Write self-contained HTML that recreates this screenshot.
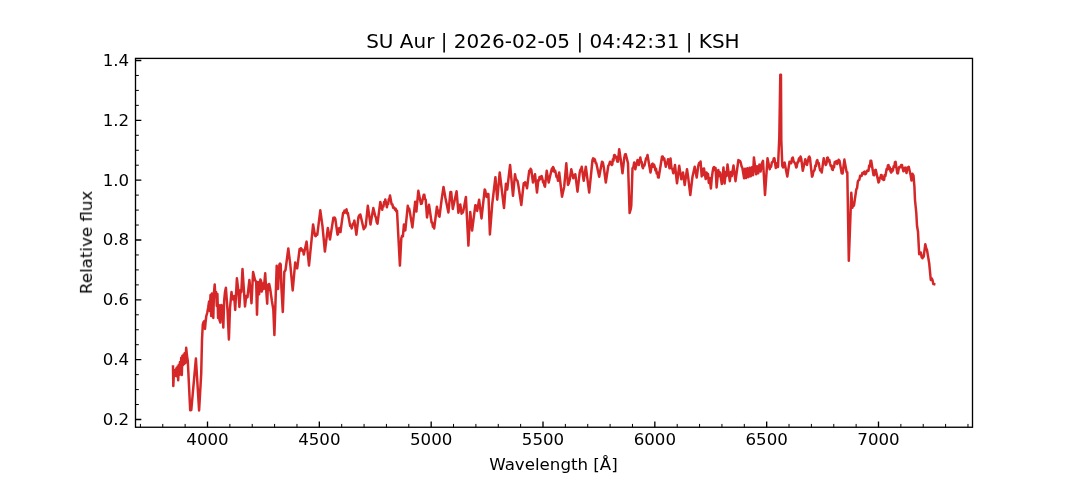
<!DOCTYPE html>
<html><head><meta charset="utf-8"><title>SU Aur spectrum</title>
<style>html,body{margin:0;padding:0;background:#fff;width:1080px;height:480px;overflow:hidden}svg{display:block}text{will-change:transform}</style>
</head><body>
<svg width="1080" height="480" viewBox="0 0 1080 480"><rect x="0" y="0" width="1080" height="480" fill="#ffffff"/>
<polyline points="173.00,366.50 173.30,386.00 174.00,371.03 174.60,376.25 175.20,370.08 175.80,375.68 176.40,368.34 177.00,376.53 177.60,366.60 178.20,380.31 178.80,364.87 179.40,374.86 180.00,361.91 180.60,374.17 181.20,357.74 181.80,375.05 182.40,355.80 183.00,365.30 183.60,354.60 184.20,364.10 184.80,352.89 185.40,363.05 186.20,347.80 187.00,356.00 187.80,361.00 190.20,410.30 191.30,410.00 195.90,358.50 199.10,410.40 201.20,374.00 202.00,340.00 202.80,324.50 203.60,322.00 204.40,321.00 205.00,329.00 205.60,322.00 206.30,316.00 207.20,313.00 208.10,308.00 209.10,301.50 209.80,311.00 210.50,295.00 211.20,316.00 211.90,293.50 212.60,310.00 213.30,318.00 214.00,292.00 214.70,284.50 215.40,296.00 216.10,292.00 216.80,306.00 217.40,294.00 218.10,318.00 218.80,305.00 219.50,320.00 220.40,322.50 221.20,305.00 222.00,312.00 222.60,306.00 223.30,327.40 224.20,300.00 225.00,292.00 225.90,287.80 226.80,300.00 227.50,310.00 228.90,339.40 230.00,308.00 231.50,292.00 232.30,299.00 233.40,299.50 234.20,296.00 235.20,310.00 236.90,278.30 238.10,288.30 239.40,307.00 240.60,290.00 241.30,292.00 242.50,269.00 243.70,287.00 245.00,306.40 246.20,296.00 246.85,297.64 247.50,297.00 249.40,280.00 250.50,291.00 251.50,303.30 253.10,272.00 255.00,280.00 256.20,282.00 257.00,314.60 258.00,282.00 259.10,294.30 260.40,279.40 261.10,281.00 261.80,291.60 262.50,284.00 263.10,283.40 263.80,289.00 265.20,273.30 266.10,288.90 267.20,303.70 267.90,284.80 268.60,290.00 269.20,284.10 270.20,288.90 271.90,301.00 273.30,309.20 274.40,335.00 276.70,265.80 278.00,288.90 279.40,264.50 280.05,263.57 280.70,264.50 281.40,287.50 282.80,311.90 284.30,272.00 285.50,270.00 288.30,248.50 290.30,264.70 292.70,290.50 295.20,262.50 295.87,266.00 296.53,265.60 297.20,268.40 299.60,249.10 300.28,250.64 300.95,248.21 301.62,250.37 302.30,249.70 303.05,250.69 303.80,254.40 306.60,241.60 309.00,265.60 313.10,224.40 315.00,235.60 315.77,236.09 316.53,233.73 317.30,234.70 320.30,210.30 322.50,226.30 324.90,251.60 327.80,228.10 330.00,239.40 333.40,217.80 334.03,218.95 334.67,217.57 335.30,218.75 337.50,234.70 338.13,233.76 338.77,228.56 339.40,228.10 340.50,232.00 341.25,226.10 343.10,212.80 343.80,213.12 344.50,210.63 345.20,212.58 345.90,210.50 346.53,209.38 347.17,213.48 347.80,212.80 350.20,226.10 350.95,226.02 351.70,228.40 352.80,223.75 353.60,224.10 354.40,220.60 356.40,234.70 358.40,217.50 359.03,215.66 359.67,217.21 360.30,214.40 363.75,229.20 364.43,226.80 365.12,227.52 365.80,225.30 367.80,205.80 370.50,224.50 373.30,208.10 375.20,215.90 375.97,217.63 376.73,222.25 377.50,223.75 380.30,201.90 382.20,209.70 382.82,205.93 383.44,206.59 384.06,202.13 384.68,203.06 385.30,199.50 386.90,207.30 387.52,203.76 388.14,204.03 388.76,199.45 389.38,198.76 390.00,195.60 391.60,204.20 392.37,204.24 393.13,207.83 393.90,207.30 395.00,209.60 395.67,208.67 396.33,211.39 397.00,210.60 399.90,265.60 401.30,238.30 402.10,235.85 402.90,236.30 403.90,224.50 405.30,230.40 407.80,205.70 408.47,208.96 409.13,208.52 409.80,211.60 412.40,227.40 415.20,201.70 416.40,211.60 418.30,190.80 420.30,200.70 421.00,203.90 421.70,203.70 423.70,194.80 424.37,194.84 425.03,199.11 425.70,199.70 427.00,217.50 429.00,204.70 431.60,222.50 432.25,222.54 432.90,226.83 433.55,225.12 434.20,228.40 436.90,206.70 437.55,210.80 438.20,210.55 438.85,216.05 439.50,216.60 441.50,200.70 443.50,186.90 445.40,197.80 448.40,212.50 450.40,192.00 451.20,192.00 452.80,209.00 456.60,191.25 458.40,212.80 460.30,204.40 461.60,213.75 462.23,211.61 462.87,212.50 463.50,210.00 465.90,196.90 468.40,245.60 470.25,211.90 472.10,230.60 475.30,205.30 475.93,205.51 476.57,209.97 477.20,210.90 479.10,199.70 481.50,218.40 484.70,189.40 485.33,190.56 485.97,195.20 486.60,196.90 487.50,193.95 488.40,194.10 489.90,234.40 492.20,204.40 495.40,177.20 497.25,199.70 499.70,172.50 504.00,208.10 505.90,183.75 507.20,189.50 510.10,165.00 513.00,195.80 515.00,174.20 515.85,178.77 516.70,180.00 517.50,181.06 518.30,185.00 521.30,205.00 523.70,183.30 524.40,185.10 525.10,182.17 525.80,183.30 527.00,188.30 529.20,170.80 529.90,172.12 530.60,168.80 531.30,170.00 533.00,182.50 535.00,174.20 537.00,192.50 538.30,180.00 538.92,180.62 539.55,177.05 540.17,179.28 540.80,176.70 541.65,176.07 542.50,179.20 543.12,182.39 543.75,181.40 544.38,185.65 545.00,186.70 546.70,170.80 548.70,182.50 551.30,170.80 551.90,168.58 552.50,171.08 553.10,166.98 553.70,168.30 554.40,171.70 555.10,170.54 555.80,173.30 556.53,177.01 557.27,176.75 558.00,180.80 559.20,172.50 562.00,196.70 564.20,186.70 566.30,163.30 568.00,185.00 568.85,183.28 569.70,180.00 571.30,169.20 573.30,178.30 573.97,175.63 574.63,176.52 575.30,174.20 577.50,191.70 579.70,172.50 580.37,169.68 581.03,169.45 581.70,166.70 583.70,180.80 585.80,166.70 589.20,192.50 592.50,160.00 593.12,158.33 593.75,160.91 594.38,158.95 595.00,160.00 595.65,162.87 596.30,163.30 599.20,176.70 602.00,161.70 602.85,162.40 603.70,166.70 605.80,182.50 608.30,165.80 609.15,164.60 610.00,161.70 610.85,162.06 611.70,165.00 612.30,164.41 612.90,159.19 613.50,160.73 614.10,155.21 614.70,155.00 615.37,157.48 616.03,156.55 616.70,159.20 617.35,161.63 618.00,161.70 619.20,149.20 620.80,160.00 622.50,173.30 624.20,158.30 625.00,154.44 625.80,154.20 628.00,163.30 629.60,213.00 630.80,209.00 631.30,205.00 632.50,168.30 633.35,167.30 634.20,162.50 635.30,169.20 637.50,160.00 638.15,161.57 638.80,165.00 640.30,157.50 640.97,161.16 641.65,161.87 642.33,166.63 643.00,168.30 643.77,164.77 644.53,165.36 645.30,161.70 646.03,158.40 646.77,157.99 647.50,155.00 649.20,165.00 650.50,172.50 652.00,164.20 652.67,163.57 653.35,166.64 654.03,164.65 654.70,166.70 655.37,170.39 656.03,168.72 656.70,173.47 657.37,172.41 658.03,177.26 658.70,177.50 662.00,156.70 662.73,156.42 663.47,159.60 664.20,158.30 665.80,166.70 666.53,162.51 667.27,163.50 668.00,159.20 669.50,168.30 670.50,158.50 671.50,168.30 672.40,169.09 673.30,173.30 675.00,165.00 677.00,183.30 679.20,165.80 681.30,179.20 682.15,177.07 683.00,172.50 684.70,185.00 687.00,169.20 688.30,178.30 690.30,195.00 692.50,176.70 694.70,166.70 696.70,177.50 698.30,165.80 699.07,163.14 699.83,163.81 700.60,161.50 701.70,176.50 702.40,169.00 703.20,175.00 704.00,168.50 704.80,174.00 705.70,179.00 706.50,172.50 707.20,178.00 708.00,174.00 708.80,183.00 709.60,178.00 710.90,188.50 711.80,178.00 712.60,172.00 713.30,167.99 714.00,167.00 715.00,170.00 715.60,168.00 716.60,187.50 718.30,170.00 719.20,176.00 720.00,172.50 721.80,184.00 723.50,167.50 724.60,183.50 725.80,172.00 726.60,176.00 727.50,164.50 729.80,181.20 731.00,172.00 731.80,176.00 733.50,165.50 735.50,181.20 738.40,160.00 739.17,161.66 739.93,160.84 740.70,162.50 741.55,166.25 742.40,168.00 744.10,178.30 745.00,168.63 746.15,178.09 747.30,168.30 748.45,177.13 749.60,167.80 750.75,176.27 751.90,167.23 753.05,175.28 753.90,157.50 755.00,166.00 756.10,174.30 757.00,166.34 758.20,173.34 759.40,164.63 760.60,171.56 761.80,163.48 763.00,160.80 765.00,195.00 767.50,158.30 769.70,169.20 770.40,166.38 771.10,166.61 771.80,162.76 772.50,161.70 773.13,161.32 773.77,158.50 774.40,158.30 775.80,168.00 776.50,166.37 777.20,163.00 778.00,167.00 779.30,137.00 780.30,74.80 780.95,74.80 781.30,140.00 782.30,166.00 783.10,167.50 783.85,163.81 784.60,162.50 786.00,170.00 787.30,176.50 789.50,161.70 790.35,163.28 791.20,163.30 792.00,158.60 792.80,157.50 793.65,161.49 794.50,162.50 795.35,164.07 796.20,167.50 796.83,166.48 797.45,162.18 798.08,162.46 798.70,159.20 799.33,158.08 799.95,160.52 800.58,156.58 801.20,158.30 802.80,170.80 805.30,159.20 806.15,163.41 807.00,165.00 808.70,157.50 809.35,156.57 810.00,158.30 812.00,176.70 812.67,175.59 813.33,171.89 814.00,170.80 814.66,169.80 815.32,165.41 815.98,166.06 816.64,161.22 817.30,160.00 818.03,163.28 818.77,163.11 819.50,167.50 820.23,170.55 820.97,169.91 821.70,172.50 823.70,158.30 824.37,161.94 825.03,161.98 825.70,165.00 826.40,163.88 827.10,158.08 827.80,157.50 828.53,161.22 829.27,159.78 830.00,163.30 830.70,166.04 831.40,165.46 832.10,169.28 832.80,170.00 833.42,166.25 834.05,167.24 834.67,162.09 835.30,161.70 835.92,163.05 836.55,161.08 837.17,164.02 837.80,162.50 838.65,159.72 839.50,160.80 841.70,173.30 842.60,173.50 844.40,159.60 846.00,168.70 846.65,172.22 847.30,172.20 848.80,260.70 851.30,192.80 852.40,207.70 853.20,204.83 854.00,205.40 856.30,189.40 857.07,188.07 857.83,181.63 858.60,180.20 859.37,179.69 860.13,175.76 860.90,175.60 861.60,175.93 862.30,173.12 863.00,173.83 863.70,172.20 864.47,171.63 865.23,174.29 866.00,173.75 866.90,170.79 867.80,171.00 868.48,170.84 869.16,165.59 869.84,166.69 870.52,160.82 871.20,160.70 873.50,175.00 874.27,175.20 875.03,170.41 875.80,169.90 878.50,182.50 879.12,181.64 879.75,177.73 880.38,177.86 881.00,175.00 881.62,175.25 882.25,179.00 882.88,176.92 883.50,180.00 884.12,179.88 884.75,174.92 885.38,175.91 886.00,172.50 886.62,168.92 887.25,169.60 887.88,165.33 888.50,165.00 889.17,168.93 889.83,167.48 890.50,171.25 891.12,172.59 891.75,169.30 892.38,171.28 893.00,170.00 893.65,166.28 894.30,167.10 894.95,162.21 895.60,161.90 897.25,173.10 897.88,173.47 898.50,170.00 899.12,167.22 899.75,166.90 900.50,167.18 901.25,165.00 902.00,164.99 902.75,168.75 903.38,171.29 904.00,170.60 904.62,168.10 905.25,167.50 906.50,173.10 907.50,167.50 908.12,168.10 908.75,166.90 909.75,171.25 910.60,175.00 911.50,180.60 912.50,173.75 913.50,175.60 914.40,186.25 915.00,200.00 916.30,213.00 917.00,225.80 918.00,231.70 919.20,254.20 920.00,252.42 920.80,252.50 921.65,257.24 922.50,258.30 923.10,255.78 923.70,256.70 925.30,244.20 926.15,248.03 927.00,250.00 929.20,263.30 930.80,280.00 931.65,278.26 932.50,280.00 933.35,284.03 934.20,284.20" fill="none" stroke="#d62728" stroke-width="2.5" stroke-linejoin="round" stroke-linecap="square"/>
<path d="M140.40 427.25V423.92" stroke="#000" stroke-width="1"/>
<path d="M162.77 427.25V423.92" stroke="#000" stroke-width="1"/>
<path d="M185.13 427.25V423.92" stroke="#000" stroke-width="1"/>
<path d="M229.87 427.25V423.92" stroke="#000" stroke-width="1"/>
<path d="M252.23 427.25V423.92" stroke="#000" stroke-width="1"/>
<path d="M274.60 427.25V423.92" stroke="#000" stroke-width="1"/>
<path d="M296.97 427.25V423.92" stroke="#000" stroke-width="1"/>
<path d="M341.70 427.25V423.92" stroke="#000" stroke-width="1"/>
<path d="M364.07 427.25V423.92" stroke="#000" stroke-width="1"/>
<path d="M386.43 427.25V423.92" stroke="#000" stroke-width="1"/>
<path d="M408.80 427.25V423.92" stroke="#000" stroke-width="1"/>
<path d="M453.53 427.25V423.92" stroke="#000" stroke-width="1"/>
<path d="M475.90 427.25V423.92" stroke="#000" stroke-width="1"/>
<path d="M498.27 427.25V423.92" stroke="#000" stroke-width="1"/>
<path d="M520.63 427.25V423.92" stroke="#000" stroke-width="1"/>
<path d="M565.37 427.25V423.92" stroke="#000" stroke-width="1"/>
<path d="M587.73 427.25V423.92" stroke="#000" stroke-width="1"/>
<path d="M610.10 427.25V423.92" stroke="#000" stroke-width="1"/>
<path d="M632.47 427.25V423.92" stroke="#000" stroke-width="1"/>
<path d="M677.20 427.25V423.92" stroke="#000" stroke-width="1"/>
<path d="M699.57 427.25V423.92" stroke="#000" stroke-width="1"/>
<path d="M721.93 427.25V423.92" stroke="#000" stroke-width="1"/>
<path d="M744.30 427.25V423.92" stroke="#000" stroke-width="1"/>
<path d="M789.03 427.25V423.92" stroke="#000" stroke-width="1"/>
<path d="M811.40 427.25V423.92" stroke="#000" stroke-width="1"/>
<path d="M833.77 427.25V423.92" stroke="#000" stroke-width="1"/>
<path d="M856.13 427.25V423.92" stroke="#000" stroke-width="1"/>
<path d="M900.87 427.25V423.92" stroke="#000" stroke-width="1"/>
<path d="M923.23 427.25V423.92" stroke="#000" stroke-width="1"/>
<path d="M945.60 427.25V423.92" stroke="#000" stroke-width="1"/>
<path d="M967.97 427.25V423.92" stroke="#000" stroke-width="1"/>
<path d="M135.50 404.54H138.83" stroke="#000" stroke-width="1"/>
<path d="M135.50 389.58H138.83" stroke="#000" stroke-width="1"/>
<path d="M135.50 374.62H138.83" stroke="#000" stroke-width="1"/>
<path d="M135.50 344.71H138.83" stroke="#000" stroke-width="1"/>
<path d="M135.50 329.75H138.83" stroke="#000" stroke-width="1"/>
<path d="M135.50 314.79H138.83" stroke="#000" stroke-width="1"/>
<path d="M135.50 284.88H138.83" stroke="#000" stroke-width="1"/>
<path d="M135.50 269.92H138.83" stroke="#000" stroke-width="1"/>
<path d="M135.50 254.96H138.83" stroke="#000" stroke-width="1"/>
<path d="M135.50 225.04H138.83" stroke="#000" stroke-width="1"/>
<path d="M135.50 210.08H138.83" stroke="#000" stroke-width="1"/>
<path d="M135.50 195.12H138.83" stroke="#000" stroke-width="1"/>
<path d="M135.50 165.21H138.83" stroke="#000" stroke-width="1"/>
<path d="M135.50 150.25H138.83" stroke="#000" stroke-width="1"/>
<path d="M135.50 135.29H138.83" stroke="#000" stroke-width="1"/>
<path d="M135.50 105.37H138.83" stroke="#000" stroke-width="1"/>
<path d="M135.50 90.42H138.83" stroke="#000" stroke-width="1"/>
<path d="M135.50 75.46H138.83" stroke="#000" stroke-width="1"/>
<path d="M207.50 427.25V421.42M319.33 427.25V421.42M431.17 427.25V421.42M543.00 427.25V421.42M654.83 427.25V421.42M766.67 427.25V421.42M878.50 427.25V421.42M135.50 419.50H141.33M135.50 359.67H141.33M135.50 299.83H141.33M135.50 240.00H141.33M135.50 180.17H141.33M135.50 120.33H141.33M135.50 60.50H141.33" stroke="#000" stroke-width="1.33"/>
<rect x="135.50" y="58.40" width="837.00" height="368.85" fill="none" stroke="#000" stroke-width="1.33" stroke-linejoin="miter"/>
<g font-family="DejaVu Sans, Liberation Sans, sans-serif" font-size="16.67" fill="#000"><text x="207.50" y="444.8" text-anchor="middle">4000</text><text x="319.33" y="444.8" text-anchor="middle">4500</text><text x="431.17" y="444.8" text-anchor="middle">5000</text><text x="543.00" y="444.8" text-anchor="middle">5500</text><text x="654.83" y="444.8" text-anchor="middle">6000</text><text x="766.67" y="444.8" text-anchor="middle">6500</text><text x="878.50" y="444.8" text-anchor="middle">7000</text><text x="129.2" y="424.90" text-anchor="end">0.2</text><text x="129.2" y="365.07" text-anchor="end">0.4</text><text x="129.2" y="305.23" text-anchor="end">0.6</text><text x="129.2" y="245.40" text-anchor="end">0.8</text><text x="129.2" y="185.57" text-anchor="end">1.0</text><text x="129.2" y="125.73" text-anchor="end">1.2</text><text x="129.2" y="65.90" text-anchor="end">1.4</text><text x="553.5" y="470" text-anchor="middle">Wavelength [Å]</text><text transform="translate(91.9,242.4) rotate(-90)" text-anchor="middle">Relative flux</text><text x="552.9" y="48.3" text-anchor="middle" font-size="20">SU Aur | 2026-02-05 | 04:42:31 | KSH</text></g></svg>
</body></html>
